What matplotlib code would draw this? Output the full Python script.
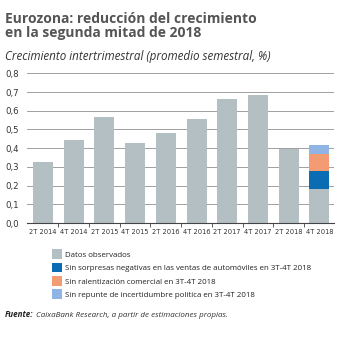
import matplotlib
matplotlib.use('Agg')
import matplotlib.pyplot as plt
from matplotlib.patches import Patch
import numpy as np

# datos
categorias = ['2T 2014', '4T 2014', '2T 2015', '4T 2015', '2T 2016',
              '4T 2016', '2T 2017', '4T 2017', '2T 2018', '4T 2018']
observados = [0.327, 0.446, 0.567, 0.428, 0.482, 0.556, 0.663, 0.683, 0.396, 0.18]
sin_autos = [0, 0, 0, 0, 0, 0, 0, 0, 0, 0.10]
sin_comercial = [0, 0, 0, 0, 0, 0, 0, 0, 0, 0.09]
sin_politica = [0, 0, 0, 0, 0, 0, 0, 0, 0, 0.048]
yticks = [0.0, 0.1, 0.2, 0.3, 0.4, 0.5, 0.6, 0.7, 0.8]

etiquetas = ['Datos observados',
             'Sin sorpresas negativas en las ventas de automóviles en 3T-4T 2018',
             'Sin ralentización comercial en 3T-4T 2018',
             'Sin repunte de incertidumbre política en 3T-4T 2018']
colores = ['#b3bfc2', '#0a6db3', '#f39c74', '#90b4e3']

plt.rcParams['font.family'] = ['Open Sans', 'DejaVu Sans']

fig = plt.figure(figsize=(3.52, 3.38), dpi=100)
ax = fig.add_axes([0.077, 0.34, 0.872, 0.443])

x = np.arange(len(categorias))
w = 0.65
ax.bar(x, observados, w, color=colores[0], zorder=3)
base = np.array(observados)
for serie, c in zip([sin_autos, sin_comercial, sin_politica], colores[1:]):
    ax.bar(x, serie, w, bottom=base, color=c, zorder=3)
    base = base + np.array(serie)

ax.set_xlim(-0.52, 9.48)
ax.set_ylim(0, 0.8)
ax.set_yticks(yticks)
ax.set_yticklabels([('%.1f' % v).replace('.', ',') for v in yticks],
                   family='DejaVu Sans', stretch='condensed', fontsize=6.8, color='#333333')
ax.set_xticks(x)
ax.set_xticklabels(categorias, family='DejaVu Sans', stretch='condensed',
                   fontsize=5.3, color='#333333')
ax.set_xticks(np.arange(0.5, 9.0, 1), minor=True)
ax.tick_params(axis='x', which='major', length=0, pad=4)
ax.tick_params(axis='x', which='minor', length=3, color='#444444', width=0.6)
ax.tick_params(axis='y', length=0, pad=6)
ax.yaxis.grid(True, color='#a0a0a0', linewidth=0.7, zorder=0)
for s in ['top', 'right', 'left']:
    ax.spines[s].set_visible(False)
ax.spines['bottom'].set_color('#444444')
ax.spines['bottom'].set_linewidth(0.8)
ax.spines['bottom'].set_zorder(4)

# titulos
fig.text(0.015, 0.965, 'Eurozona: reducción del crecimiento\nen la segunda mitad de 2018',
         fontsize=10, fontweight='bold', color='#555555', va='top', linespacing=1.0)
fig.text(0.015, 0.852, 'Crecimiento intertrimestral (promedio semestral, %)',
         fontsize=8.4, style='italic', color='#333333', va='top')

# leyenda
handles = [Patch(facecolor=c, edgecolor='none') for c in colores]
fig.legend(handles, etiquetas, loc='upper left', bbox_to_anchor=(0.148, 0.262),
           frameon=False, fontsize=5.65, handlelength=1.25, handleheight=1.5,
           handletextpad=0.4, labelspacing=0.48, borderaxespad=0, borderpad=0,
           labelcolor='#222222')

fuente = fig.text(0.015, 0.062, 'Fuente:', fontsize=5.8, fontweight='bold', style='italic',
                  color='#222222', va='baseline')
ax.annotate('CaixaBank Research, a partir de estimaciones propias.', xy=(1, 0),
            xycoords=fuente, xytext=(1.5, 0), textcoords='offset points',
            fontsize=5.8, style='italic', color='#333333', va='bottom',
            annotation_clip=False)

fig.savefig('out.png', dpi=100)
